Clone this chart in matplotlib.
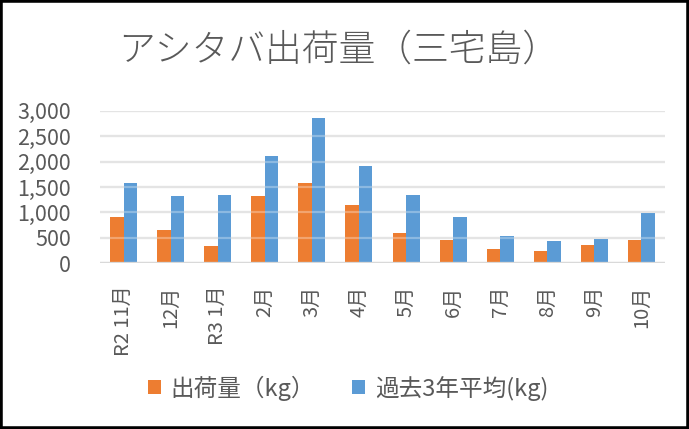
import matplotlib
matplotlib.use("Agg")
import matplotlib.pyplot as plt
import numpy as np
from matplotlib.patches import Rectangle

plt.rcParams['font.family'] = ['Noto Sans CJK JP', 'DejaVu Sans']

categories = ["R2 11月", "12月", "R3 1月", "2月", "3月", "4月", "5月", "6月", "7月", "8月", "9月", "10月"]
shipment = [910, 655, 340, 1320, 1580, 1146, 596, 458, 281, 242, 360, 458]
avg3yr = [1579, 1323, 1343, 2110, 2857, 1913, 1343, 910, 537, 438, 478, 989]
series_names = ["出荷量（kg）", "過去3年平均(kg)"]
title = "アシタバ出荷量（三宅島）"
yticks = [0, 500, 1000, 1500, 2000, 2500, 3000]

ORANGE = "#ED7D31"
BLUE = "#5B9BD5"
GRID = "#D9D9D9"
TXT = "#595959"

fig = plt.figure(figsize=(6.89, 4.29), dpi=100)
ax = fig.add_axes([100/689, 1-263.3/429, 565/689, (263.3-110.7)/429])

x = np.arange(len(categories))
w = 0.287
b1 = ax.bar(x - w/2, shipment, w, color=ORANGE, zorder=2, label=series_names[0])
b2 = ax.bar(x + w/2, avg3yr, w, color=BLUE, zorder=2, label=series_names[1])

ax.set_xlim(-0.5, len(categories) - 0.5)
ax.set_ylim(0, 3000)
ax.set_yticks(yticks)
ax.set_yticklabels([f"{v:,}" for v in yticks])
ax.set_xticks(x)
ax.set_xticklabels(categories, rotation=90, va='top', ha='center')

ax.tick_params(axis='y', length=0, pad=21, labelsize=15.5, labelcolor=TXT)
ax.tick_params(axis='x', length=0, pad=16, labelsize=14.5, labelcolor=TXT)
for s in ax.spines.values():
    s.set_visible(False)

ax.yaxis.grid(True, color=GRID, linewidth=1.6, zorder=0)
ax.set_axisbelow(True)
# light overlay of gridlines across bars
for v in ax.get_yticks():
    ax.axhline(v, color='white', alpha=0.3, linewidth=1.6, zorder=3)
ax.axhline(0, color=GRID, linewidth=1.6, zorder=3)

fig.text(0.492, 0.883, title, ha='center', va='center', fontsize=26.5, color=TXT,
         fontweight='light')

leg = fig.legend(handles=[b1, b2], loc='center', bbox_to_anchor=(0.505, 0.0956), ncol=2,
                 frameon=False, fontsize=17, handlelength=0.55, handleheight=0.55,
                 handletextpad=0.4, columnspacing=1.6, labelcolor=TXT)

fig.add_artist(Rectangle((0, 0), 1, 1, transform=fig.transFigure, fill=False,
                         edgecolor='black', linewidth=4, zorder=10))

fig.savefig("out.png", dpi=100)
